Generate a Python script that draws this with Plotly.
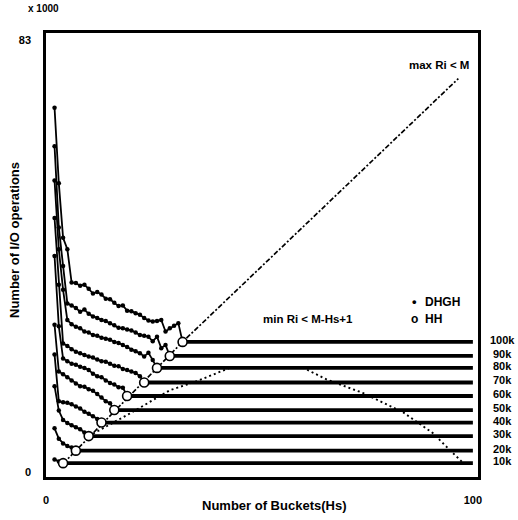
import plotly.graph_objects as go

# ---------------- data ----------------
series_labels = ["10k", "20k", "30k", "40k", "50k", "60k", "70k", "80k", "90k", "100k"]
hs_first = 2          # first number of buckets plotted for DHGH
hs_max = 100

# DHGH, Hs = 2, 3, ... until the HH point (x 1000 I/O operations)
dhgh_10k = [2.4, 2.0]
dhgh_20k = [8.4, 6.4, 5.5, 5.0, 4.7]
dhgh_30k = [16.5, 11.8, 10.0, 9.4, 9.0, 8.6, 8.2, 7.6]
dhgh_40k = [22.6, 13.6, 13.4, 13.3, 13.0, 12.6, 12.2, 11.6, 11.2, 10.7, 10.2]
dhgh_50k = [28.3, 19.3, 18.8, 18.2, 17.6, 17.0, 16.5, 16.4, 15.9, 15.6, 15.0, 14.3, 13.6, 13.2]
dhgh_60k = [41.5, 28.0, 21.8, 21.3, 20.8, 20.6, 20.2, 20.0, 19.6, 18.9, 18.4, 18.2, 17.6,
            17.1, 16.8, 16.3, 16.2]
dhgh_70k = [48.8, 36.0, 24.7, 24.2, 23.6, 23.1, 22.8, 22.5, 22.2, 22.0, 21.6, 21.3, 21.2,
            20.8, 20.4, 20.3, 19.8, 19.6, 19.3, 19.0, 18.4]
dhgh_80k = [56.0, 42.8, 35.0, 29.2, 28.4, 27.9, 27.6, 27.0, 26.8, 26.3, 26.2, 25.8, 25.6,
            25.4, 25.0, 24.8, 24.4, 24.0, 23.5, 23.2, 22.8, 22.2, 22.9, 21.5]
dhgh_90k = [62.6, 47.0, 39.6, 32.4, 32.0, 31.5, 30.8, 31.2, 30.4, 29.9, 29.6, 29.2, 29.0,
            28.6, 28.2, 27.7, 27.6, 27.4, 27.2, 26.8, 26.3, 26.2, 26.0, 25.1, 26.0, 23.8, 24.4]
dhgh_100k = [70.0, 55.5, 45.0, 42.8, 36.4, 36.3, 35.8, 36.0, 35.2, 34.3, 34.6, 34.1, 33.3,
             33.2, 32.5, 31.9, 32.0, 31.0, 30.9, 30.5, 30.2, 29.6, 29.1, 28.9, 29.0, 29.2,
             27.0, 27.6, 28.1, 28.6]
dhgh_curves = [dhgh_10k, dhgh_20k, dhgh_30k, dhgh_40k, dhgh_50k,
               dhgh_60k, dhgh_70k, dhgh_80k, dhgh_90k, dhgh_100k]

# HH points (one per memory size); DHGH stays at this level up to Hs = 100
hh_hs = [4, 7, 10, 13, 16, 19, 23, 26, 29, 32]
hh_io = [1.7, 4.1, 6.9, 9.5, 11.9, 14.6, 17.2, 20.0, 22.3, 25.0]

# bound curves
max_bound_hs = [4, 32, 96.6]
max_bound_io = [1.6, 25.0, 75.6]
min_bound_hs = [10, 20, 29, 35.5, 43, 60.3, 65.7, 71.2, 74.2, 83.6, 90.6, 94.6, 97.4]
min_bound_io = [6.9, 11.4, 15.7, 17.5, 20.0, 20.0, 17.8, 16.2, 15.2, 11.5, 7.5, 4.2, 2.0]

x_ticks = [0, 100]
y_ticks = [0, 83]

# ---------------- figure ----------------
FONT = "Liberation Sans, Arial, sans-serif"
W0, H0 = 432, 444   # plot area size in px
L0, T0 = 46, 33


def px_x(px):
    return (px - L0) / W0


def px_y(py):
    return (T0 + H0 - py) / H0


def bfont(size):
    return dict(family=FONT, size=size, color="black", weight="bold")


fig = go.Figure()

fig.add_trace(go.Scatter(x=max_bound_hs, y=max_bound_io, mode="lines",
                         line=dict(color="black", width=1.7, dash="5px,2px,2px,2px"),
                         showlegend=False, hoverinfo="skip"))
fig.add_trace(go.Scatter(x=min_bound_hs, y=min_bound_io, mode="lines",
                         line=dict(color="black", width=1.9, dash="2px,3px"),
                         showlegend=False, hoverinfo="skip"))

for i, curve in enumerate(dhgh_curves):
    xs = list(range(hs_first, hs_first + len(curve))) + [hh_hs[i]]
    ys = list(curve) + [hh_io[i]]
    fig.add_trace(go.Scatter(x=xs, y=ys, mode="lines+markers",
                             line=dict(color="black", width=1.8),
                             marker=dict(color="black", size=4.5),
                             name="DHGH " + series_labels[i], showlegend=False))
    fig.add_trace(go.Scatter(x=[hh_hs[i], hs_max], y=[hh_io[i], hh_io[i]], mode="lines",
                             line=dict(color="black", width=3.8),
                             showlegend=False, hoverinfo="skip"))

fig.add_trace(go.Scatter(x=hh_hs, y=hh_io, mode="markers",
                         marker=dict(symbol="circle", size=9, color="white",
                                     line=dict(color="black", width=1.6)),
                         name="HH", showlegend=False))

annotations = []
# memory-size labels at right
for i, lab in enumerate(series_labels):
    annotations.append(dict(x=px_x(502), xref="paper", y=hh_io[i], yref="y",
                            text=lab, showarrow=False, xanchor="center", yanchor="middle",
                            yshift=2, font=bfont(11)))

annotations += [
    dict(x=px_x(471), xref="paper", y=px_y(65), yref="paper",
         text="max Ri < M", showarrow=False, xanchor="right", yanchor="middle",
         font=bfont(11.5)),
    dict(x=px_x(261), xref="paper", y=px_y(319), yref="paper",
         text="min Ri < M-Hs+1", showarrow=False, xanchor="left", yanchor="middle",
         font=bfont(11.5)),
    dict(x=px_x(414), xref="paper", y=px_y(302), yref="paper",
         text="•", showarrow=False, xanchor="center", yanchor="middle",
         font=bfont(13)),
    dict(x=px_x(423), xref="paper", y=px_y(302), yref="paper",
         text="DHGH", showarrow=False, xanchor="left", yanchor="middle",
         font=bfont(12)),
    dict(x=px_x(414), xref="paper", y=px_y(319), yref="paper",
         text="o", showarrow=False, xanchor="center", yanchor="middle",
         font=bfont(12)),
    dict(x=px_x(423), xref="paper", y=px_y(319), yref="paper",
         text="HH", showarrow=False, xanchor="left", yanchor="middle",
         font=bfont(12)),
    dict(x=px_x(26), xref="paper", y=px_y(8), yref="paper",
         text="x 1000", showarrow=False, xanchor="left", yanchor="middle",
         font=bfont(10)),
    dict(x=px_x(14), xref="paper", y=px_y(240), yref="paper",
         text="Number of I/O operations", showarrow=False, textangle=-90,
         xanchor="center", yanchor="middle", font=bfont(13)),
    dict(x=px_x(274), xref="paper", y=px_y(505), yref="paper",
         text="Number of Buckets(Hs)", showarrow=False, xanchor="center", yanchor="middle",
         font=bfont(13)),
]

fig.update_layout(
    width=518, height=520,
    margin=dict(l=L0, r=518 - L0 - W0, t=T0, b=520 - T0 - H0),
    paper_bgcolor="white", plot_bgcolor="white",
    showlegend=False,
    annotations=annotations,
    xaxis=dict(range=[0, 101.2], tickvals=x_ticks, ticktext=[str(v) for v in x_ticks],
               showgrid=False, zeroline=False, showline=True, mirror=True,
               linecolor="black", linewidth=2.5, ticks="", ticklabelstandoff=11,
               tickfont=bfont(11)),
    yaxis=dict(range=[-0.96, 84.35], tickvals=y_ticks, ticktext=[str(v) for v in y_ticks],
               showgrid=False, zeroline=False, showline=True, mirror=True,
               linecolor="black", linewidth=2.5, ticks="", ticklabelstandoff=10,
               tickfont=bfont(11)),
)

fig.write_html("out.html",
               config={"displayModeBar": False},
               post_script="document.body.style.margin='0';document.body.style.overflow='hidden';")
